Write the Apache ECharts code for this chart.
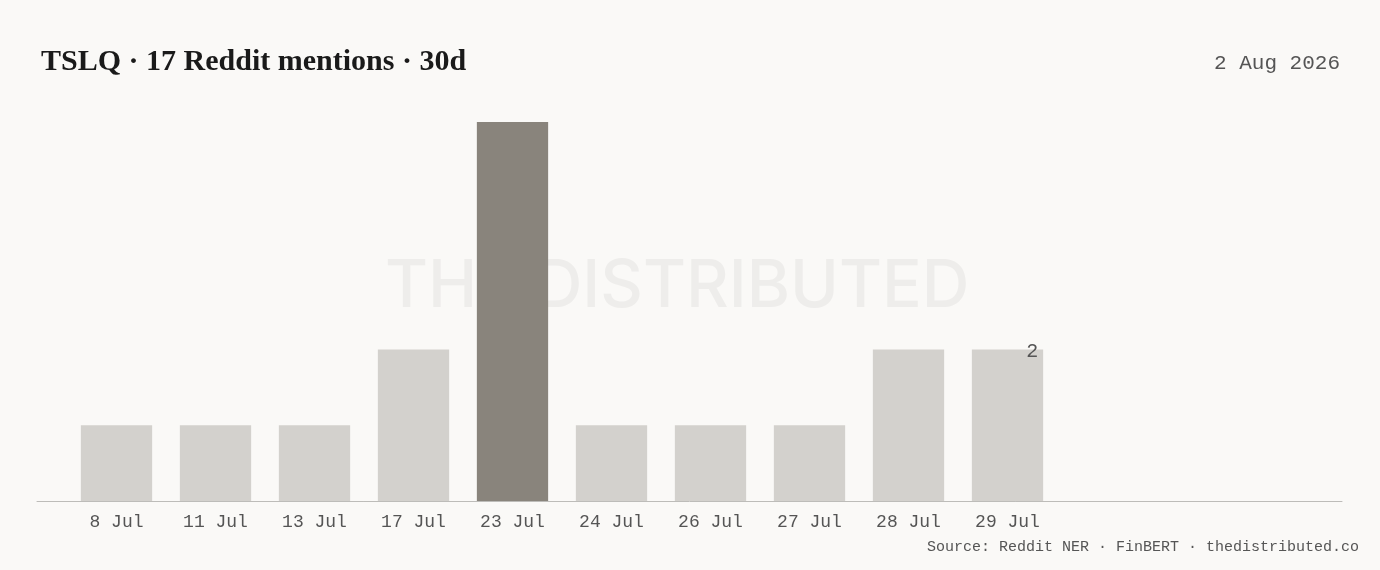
<!DOCTYPE html>
<html>
<head>
<meta charset="utf-8">
<style>
html,body{margin:0;padding:0;background:#faf9f7;}
#c{width:1380px;height:570px;}
</style>
<script src="https://cdn.jsdelivr.net/npm/echarts@6/dist/echarts.min.js"></script>
</head>
<body>
<div id="c"></div>
<script>
const categories = ['8 Jul','11 Jul','13 Jul','17 Jul','23 Jul','24 Jul','26 Jul','27 Jul','28 Jul','29 Jul'];
const mentions = [1,1,1,2,5,1,1,1,2,2];
const titleText = 'TSLQ \u00b7 17 Reddit mentions \u00b7 30d';
const dateText = '2 Aug 2026';
const sourceText = 'Source: Reddit NER \u00b7 FinBERT \u00b7 thedistributed.co';
const watermarkHead = 'THE DISTRIB';
const watermarkTail = ['U','T','E','D'];

const maxVal = Math.max(...mentions);
const barData = mentions.map((v, i) => {
  const item = { value: v, itemStyle: { color: v === maxVal ? '#89847c' : '#d3d1cd' } };
  if (i === mentions.length - 1) {
    item.label = {
      show: true, position: 'insideTopRight', distance: 5, offset: [0, -13],
      color: '#555', fontFamily: 'Liberation Mono, DejaVu Sans Mono, monospace', fontSize: 20
    };
  }
  return item;
});

const tailColors = ['#efeeec', '#f1f0ee', '#f4f3f1', '#f6f5f3'];
const wmFont = { fontFamily: 'Inter, Liberation Sans, Arial, sans-serif', fontSize: 66, fontWeight: 500 };
const rich = { h: Object.assign({ color: '#eeedeb' }, wmFont) };
watermarkTail.forEach((ch, i) => { rich['t' + i] = Object.assign({ color: tailColors[i] }, wmFont); });
const wmText = '{h|' + watermarkHead + '}' + watermarkTail.map((ch, i) => '{t' + i + '|' + ch + '}').join('');

const chart = echarts.init(document.getElementById('c'), null, { renderer: 'canvas' });
chart.setOption({
  backgroundColor: '#faf9f7',
  animation: false,
  title: [
    { text: titleText, left: 36, top: 42,
      textStyle: { fontFamily: 'Liberation Serif, serif', fontWeight: 'bold', fontSize: 30, color: '#1a1a1a' } },
    { text: dateText, right: 35, top: 48,
      textStyle: { fontFamily: 'Liberation Mono, monospace', fontWeight: 'normal', fontSize: 21, color: '#555' } },
    { text: sourceText, right: 16, top: 535,
      textStyle: { fontFamily: 'Liberation Mono, monospace', fontWeight: 'normal', fontSize: 15, color: '#555' } }
  ],
  graphic: [{
    type: 'text', z: -10, left: 385, top: 254,
    style: {
      text: wmText, rich: rich,
      fontFamily: wmFont.fontFamily, fontSize: 66, fontWeight: 500,
      fill: '#eeedeb'
    }
  }],
  grid: [
    { left: 67, right: 323, top: 122, bottom: 69 },
    { left: 37, right: 38, top: 122, bottom: 69 }
  ],
  xAxis: [
    { type: 'category', gridIndex: 0, data: categories,
      axisLine: { show: false }, axisTick: { show: false },
      axisLabel: { color: '#555', fontFamily: 'Liberation Mono, monospace', fontSize: 18, margin: 12 } },
    { type: 'value', gridIndex: 1, min: 0, max: 1,
      axisLine: { show: true, lineStyle: { color: '#bdbcb9', width: 1 } },
      axisTick: { show: false }, axisLabel: { show: false }, splitLine: { show: false } }
  ],
  yAxis: [
    { type: 'value', gridIndex: 0, min: 0, max: 5, show: false, splitLine: { show: false } },
    { type: 'value', gridIndex: 1, min: 0, max: 5, show: false, splitLine: { show: false } }
  ],
  series: [{
    type: 'bar', xAxisIndex: 0, yAxisIndex: 0, data: barData, barCategoryGap: '28%', z: 2
  }]
});
</script>
</body>
</html>
